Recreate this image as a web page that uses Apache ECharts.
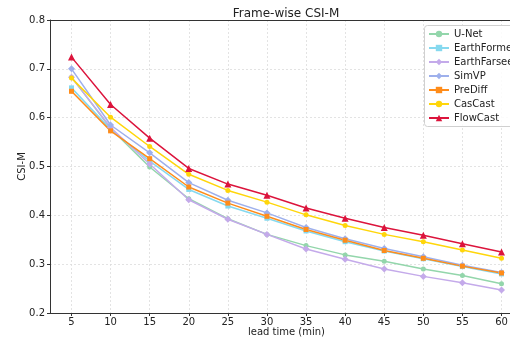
<!DOCTYPE html>
<html>
<head>
<meta charset="utf-8">
<script src="https://cdn.jsdelivr.net/npm/echarts@6/dist/echarts.min.js"></script>
<style>
  html, body { margin: 0; padding: 0; background: #fff; }
  #chart { width: 510px; height: 338px; }
</style>
</head>
<body>
<div id="chart"></div>
<script>
// lead times (min)
const leadTimes = [5, 10, 15, 20, 25, 30, 35, 40, 45, 50, 55, 60]
const yTicks = [0.2, 0.3, 0.4, 0.5, 0.6, 0.7, 0.8]

// CSI-M per model
const unet = [0.683, 0.578, 0.499, 0.434, 0.393, 0.361, 0.338, 0.319, 0.306, 0.290, 0.277, 0.260]
const earthFormer = [0.661, 0.576, 0.511, 0.453, 0.419, 0.394, 0.368, 0.346, 0.327, 0.311, 0.295, 0.280]
const earthFarseer = [0.683, 0.580, 0.505, 0.432, 0.392, 0.361, 0.331, 0.310, 0.290, 0.275, 0.262, 0.247]
const simvp = [0.700, 0.585, 0.528, 0.467, 0.431, 0.405, 0.375, 0.352, 0.332, 0.315, 0.298, 0.283]
const prediff = [0.654, 0.573, 0.516, 0.458, 0.425, 0.398, 0.371, 0.349, 0.328, 0.312, 0.296, 0.282]
const casCast = [0.681, 0.601, 0.541, 0.484, 0.451, 0.427, 0.401, 0.379, 0.361, 0.346, 0.329, 0.312]
const flowCast = [0.724, 0.627, 0.558, 0.496, 0.464, 0.441, 0.415, 0.394, 0.375, 0.359, 0.342, 0.325]

const models = [
  { name: 'U-Net', data: unet, color: '#93d6ab', symbol: 'circle' },
  { name: 'EarthFormer', data: earthFormer, color: '#86d9ef', symbol: 'rect' },
  { name: 'EarthFarseer', data: earthFarseer, color: '#c4aaea', symbol: 'diamond' },
  { name: 'SimVP', data: simvp, color: '#9eb0ec', symbol: 'diamond' },
  { name: 'PreDiff', data: prediff, color: '#ff8c1a', symbol: 'rect' },
  { name: 'CasCast', data: casCast, color: '#ffd60a', symbol: 'circle' },
  { name: 'FlowCast', data: flowCast, color: '#dc143c', symbol: 'triangle' },
]

const font = 'DejaVu Sans'
const chart = echarts.init(document.getElementById('chart'), null, { renderer: 'canvas' })

chart.setOption({
  animation: false,
  title: {
    text: 'Frame-wise CSI-M',
    left: 281,
    textAlign: 'center',
    top: 3,
    textStyle: { fontFamily: font, fontSize: 12, fontWeight: 'normal', color: '#222' },
  },
  legend: {
    orient: 'vertical',
    left: 424,
    top: 25,
    padding: [4, 6, 4, 4],
    itemGap: 4,
    itemWidth: 20,
    itemHeight: 8,
    z: 5,
    textStyle: { fontFamily: font, fontSize: 10, color: '#222' },
    data: models.map((m) => m.name),
  },
  // legend frame (runs off the right edge like the original)
  graphic: [{
    type: 'rect',
    z: 4,
    shape: { x: 424.5, y: 25.5, width: 120, height: 101, r: 3 },
    style: { fill: 'rgba(255,255,255,0.85)', stroke: '#d0d0d0', lineWidth: 1 },
  }],
  grid: {
    left: 50, top: 20, width: 473, height: 293,
    outerBoundsMode: 'none', containLabel: false,
  },
  xAxis: [{
    type: 'value',
    min: 2.25,
    max: 62.75,
    name: 'lead time (min)',
    nameLocation: 'middle',
    nameGap: 14,
    nameMoveOverlap: false,
    nameTextStyle: { fontFamily: font, fontSize: 10, color: '#222' },
    axisLine: { lineStyle: { color: '#333' } },
    axisTick: { show: true, inside: false, length: 3, lineStyle: { color: '#333' }, customValues: leadTimes },
    axisLabel: { fontFamily: font, fontSize: 10, color: '#222', margin: 4, customValues: leadTimes },
    splitLine: { show: true, lineStyle: { color: '#dcdcdc', type: [2, 2], width: 0.8 } },
  }, {
    type: 'value',
    position: 'top',
    min: 2.25,
    max: 62.75,
    axisLine: { show: true, onZero: false, lineStyle: { color: '#333' } },
    axisTick: { show: false },
    axisLabel: { show: false },
    splitLine: { show: false },
  }],
  yAxis: {
    type: 'value',
    min: yTicks[0],
    max: yTicks[yTicks.length - 1],
    interval: 0.1,
    name: 'CSI-M',
    nameLocation: 'middle',
    nameGap: 23,
    nameMoveOverlap: false,
    nameTextStyle: { fontFamily: font, fontSize: 10, color: '#222' },
    axisLine: { show: true, lineStyle: { color: '#333' } },
    axisTick: { show: true, inside: false, length: 3, lineStyle: { color: '#333' } },
    axisLabel: {
      fontFamily: font, fontSize: 10, color: '#222', margin: 5,
      formatter: (v) => v.toFixed(1),
    },
    splitLine: { show: true, lineStyle: { color: '#dcdcdc', type: [2, 2], width: 0.8 } },
  },
  series: models.map((m) => ({
    name: m.name,
    type: 'line',
    xAxisIndex: 0,
    data: leadTimes.map((t, i) => [t, m.data[i]]),
    symbol: m.symbol,
    symbolSize: m.symbol === 'triangle' ? 7 : m.symbol === 'diamond' ? 7 : 5,
    showAllSymbol: true,
    color: m.color,
    lineStyle: { width: 1.5, color: m.color },
    itemStyle: { color: m.color },
  })),
})
</script>
</body>
</html>
